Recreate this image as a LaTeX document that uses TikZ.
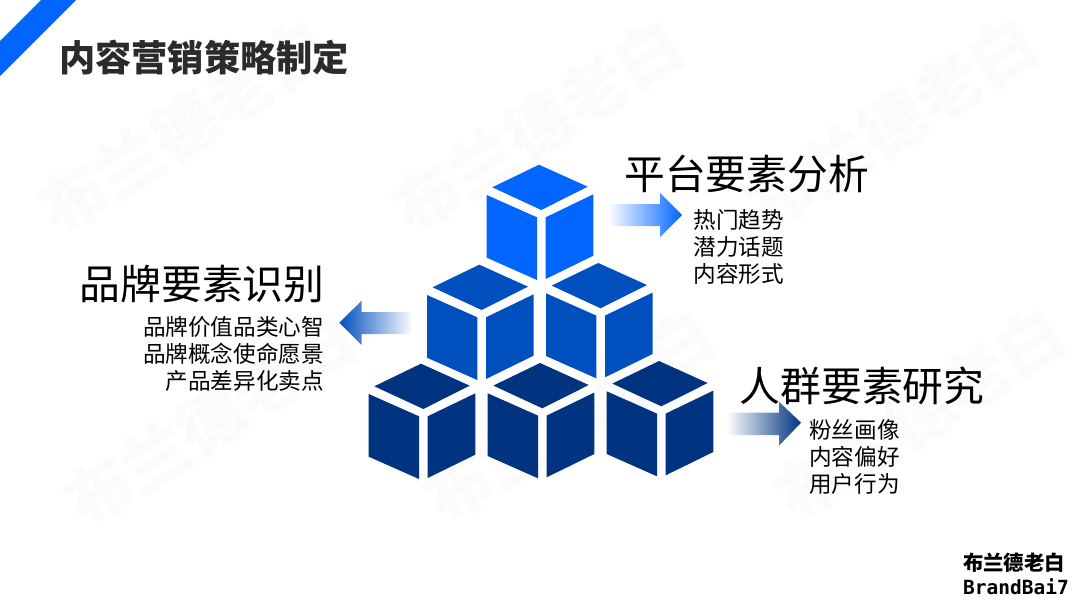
\documentclass[tikz,border=0pt]{standalone}
\usepackage{fontspec}
\setmainfont{Noto Sans CJK SC}
\newfontfamily\logomono{DejaVu Sans Mono}
\definecolor{topblue}{HTML}{0066FF}
\definecolor{midblue}{HTML}{004FBE}
\definecolor{lowblue}{HTML}{003380}
\definecolor{titlegray}{HTML}{2B2B2B}
\definecolor{markgray}{HTML}{FBFBFB}
\tikzset{
  titletext/.style={anchor=west,inner sep=0pt,font=\fontsize{36.2}{36.2}\selectfont\bfseries,text=titlegray},
  headtext/.style={anchor=west,inner sep=0pt,font=\fontsize{40.8}{40.8}\selectfont},
  subtext/.style={inner sep=0pt,font=\fontsize{22.6}{27}\selectfont},
  marktext/.style={inner sep=0pt,rotate=33,font=\fontsize{66}{66}\selectfont\bfseries,text=markgray},
}
\newcommand{\drawcube}[2]{
\fill[#2] (#1) -- ++(48.7,22) -- ++(-46.4,23.3) -- ++(-49,-22.7) -- cycle;
\fill[#2] ($(#1)+(-52.3,30.3)$) -- ++(50.3,22.3) -- ++(0,62.7) -- ++(-50.3,-22.3) -- cycle;
\fill[#2] ($(#1)+(6.7,52.6)$) -- ++(47.6,-23) -- ++(0,61.4) -- ++(-47.6,23.3) -- cycle;
}
\usetikzlibrary{calc}
\begin{document}
\begin{tikzpicture}[x=1pt,y=-1pt]
\useasboundingbox (0,0) rectangle (1080,608);
\node[marktext] (markA) at (184,127) {布兰德老白};
\node[marktext] (markB) at (538,126) {布兰德老白};
\node[marktext] (markC) at (892,124) {布兰德老白};
\node[marktext] (markD) at (210,420) {布兰德老白};
\node[marktext] (markE) at (569,416) {布兰德老白};
\node[marktext] (markF) at (920,414) {布兰德老白};
\fill[topblue] (41,0) -- (76,0) -- (0,76) -- (0,41) -- cycle;
\node[titletext] (title) at (59,58) {内容营销策略制定};
\coordinate (A) at (539,164.7);
\coordinate (B) at (479.3,264.7);
\coordinate (C) at (598.3,263);
\coordinate (D) at (421,363.7);
\coordinate (E) at (540,363);
\coordinate (F) at (659,361);
\drawcube{A}{topblue}
\drawcube{B}{midblue}
\drawcube{C}{midblue}
\drawcube{D}{lowblue}
\drawcube{E}{lowblue}
\drawcube{F}{lowblue}
\shade[left color=white,right color=topblue] (608,204) -- (660,204) -- (660,193) -- (682,215) -- (660,237) -- (660,226) -- (608,226) -- cycle;
\shade[left color=midblue,right color=white] (413,312) -- (361.7,312) -- (361.7,300.7) -- (339.3,322.7) -- (361.7,345) -- (361.7,334) -- (413,334) -- cycle;
\shade[left color=white,right color=lowblue] (727,412.7) -- (779,412.7) -- (779,401.7) -- (801,422.7) -- (779,445.7) -- (779,435) -- (727,435) -- cycle;
\node[headtext] (platform) at (624,174) {平台要素分析};
\node[subtext,anchor=north west,align=left] (platformsub) at (693.5,209.5) {热门趋势\\潜力话题\\内容形式};
\node[headtext] (brand) at (79.5,284) {品牌要素识别};
\node[subtext,anchor=north east,align=right] (brandsub) at (324,316.5) {品牌价值品类心智\\品牌概念使命愿景\\产品差异化卖点};
\node[headtext] (people) at (739.5,386) {人群要素研究};
\node[subtext,anchor=north west,align=left] (peoplesub) at (809,419) {粉丝画像\\内容偏好\\用户行为};
\node[inner sep=0pt,anchor=center,font=\fontsize{20.4}{20.4}\selectfont\bfseries] (logoA) at (1014,563) {布兰德老白};
\node[inner sep=0pt,anchor=center,font=\fontsize{19.5}{19.5}\selectfont\bfseries\logomono] (logoB) at (1016,587) {BrandBai7};
\end{tikzpicture}
\end{document}
